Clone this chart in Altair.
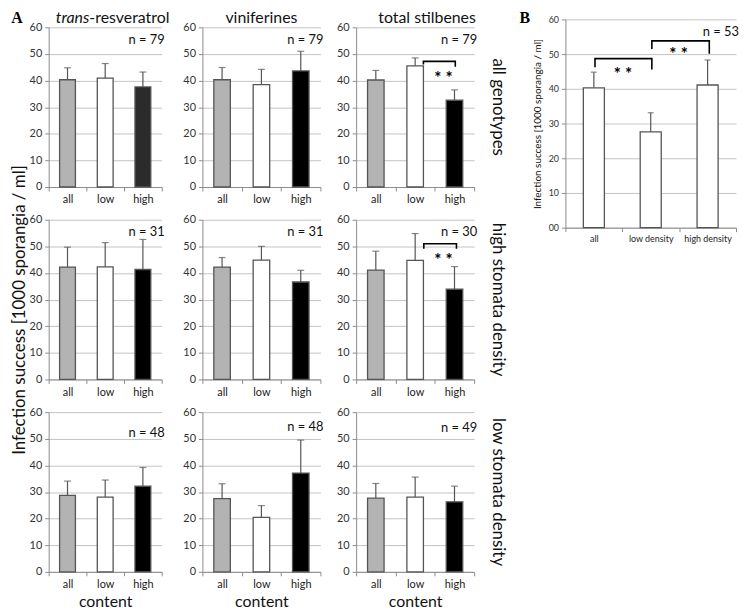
import altair as alt
import pandas as pd

FONT = "Lato"
SERIF = "Liberation Serif"
GRID = "#c3c3c3"
AXC = "#8c8c8c"
EDGE = "#555555"

groups = ["all", "low", "high"]
column_titles = ["trans-resveratrol", "viniferines", "total stilbenes"]
row_titles = ["all genotypes", "high stomata density", "low stomata density"]

# mean infection success per compound column (trans-resveratrol, viniferines, total stilbenes)
means_all_genotypes = [[40.3, 40.9, 37.6], [40.3, 38.5, 43.6], [40.2, 45.5, 32.6]]
errors_all_genotypes = [[4.5, 5.5, 5.6], [4.6, 5.7, 7.4], [3.6, 3.0, 3.9]]
means_high_density = [[42.2, 42.3, 41.3], [42.2, 44.8, 36.6], [41.1, 44.7, 33.9]]
errors_high_density = [[7.5, 9.1, 11.3], [3.6, 5.2, 4.4], [7.1, 10.1, 8.5]]
means_low_density = [[28.7, 28.1, 32.2], [27.5, 20.5, 37.1], [27.7, 28.1, 26.3]]
errors_low_density = [[5.4, 6.4, 7.0], [5.6, 4.4, 12.4], [5.5, 7.5, 5.9]]
n_values = [[79, 79, 79], [31, 31, 30], [48, 48, 49]]
n_label_y = [[55.3, 55.3, 55.3], [55.4, 55.4, 55.3], [52.0, 54.5, 54.0]]

b_groups = ["all", "low density", "high density"]
b_means = [40.3, 27.6, 41.1]
b_errors = [4.5, 5.5, 7.2]
b_n = 53

# significance brackets: x in category units (0..3), y in data units
sig_all_x = [1.71, 1.71, 2.52, 2.52]
sig_all_y = [46.0, 47.2, 47.2, 45.2]
sig_all_star = [2.22, 42.6]
sig_high_x = [1.72, 1.72, 2.55, 2.55]
sig_high_y = [49.1, 51.0, 51.0, 49.1]
sig_high_star = [2.22, 46.3]
sig_b1_x = [0.52, 0.52, 1.52, 1.52]
sig_b1_y = [46.2, 48.7, 48.7, 45.6]
sig_b1_star = [1.01, 45.4]
sig_b2_x = [1.52, 1.52, 2.53, 2.53]
sig_b2_y = [51.5, 53.8, 53.8, 50.1]
sig_b2_star = [1.99, 51.2]

fill_colors = ["#b3b3b3", "#ffffff", "#000000"]
fill_colors_first = ["#b3b3b3", "#ffffff", "#2b2b2b"]


def one(col, val):
    return alt.Chart(pd.DataFrame({col: [val]}))


def panel(cats, m, e, fills, n, n_y, w, h, label_size=11, bar_band=0.42, xtitle=None,
          ytitle=None, headers=(), rowlabel=None, brackets=(), letter=None,
          zero_label=None, cap=7, n_size=13, ytitle_size=16, y_range=None):
    df = pd.DataFrame({"g": cats, "m": m, "top": [a + b for a, b in zip(m, e)], "fill": fills})
    base = alt.Chart(df)
    xs = alt.Scale(type="band", paddingInner=0, paddingOuter=0)
    x_axis = alt.Axis(labelAngle=0, tickBand="extent", labelFontSize=label_size,
                      labelColor="#222222", titleFontSize=16, titlePadding=4, domainColor=AXC)
    y_kw = dict(values=list(range(0, 61, 10)), labelFontSize=label_size, grid=True,
                titleFontSize=ytitle_size, titlePadding=6, labelOverlap=False)
    if zero_label is not None:
        y_kw["labelExpr"] = "datum.value == 0 ? '" + zero_label + "' : datum.label"
    y_axis = alt.Axis(**y_kw)
    s_kw = dict(domain=[0, 60], nice=False, zero=True)
    if y_range is not None:
        s_kw["range"] = y_range
    ys = alt.Scale(**s_kw)

    def Y(field=None, datum=None):
        if datum is not None:
            return alt.Y(datum=datum, scale=ys, axis=y_axis, title=ytitle)
        return alt.Y(field, scale=ys, axis=y_axis, title=ytitle)

    def X():
        return alt.X("g:N", sort=cats, scale=xs, axis=x_axis, title=xtitle)

    layers = [
        base.mark_bar(width=alt.RelativeBandSize(bar_band), stroke=EDGE, strokeWidth=1.3).encode(
            x=X(), y=Y("m:Q"), fill=alt.Fill("fill:N", scale=None),
        ),
        base.mark_rule(color=EDGE, strokeWidth=1.2).encode(x=X(), y=Y("m:Q"), y2="top:Q"),
        base.mark_tick(color=EDGE, thickness=1.2, size=cap, orient="horizontal").encode(
            x=X(), y=Y("top:Q"),
        ),
        one("t", f"n = {n}").mark_text(align="right", baseline="middle", fontSize=n_size,
                                       font=FONT, color="#111111").encode(
            text="t:N", x=alt.value(w + 3), y=Y(datum=n_y)),
    ]
    for txt, hx, align, style in headers:
        layers.append(one("t", txt).mark_text(align=align, baseline="middle", fontSize=16,
                                              font=FONT, fontStyle=style, color="#111111").encode(
            text="t:N", x=alt.value(hx), y=alt.value(-9)))
    if rowlabel:
        layers.append(one("t", rowlabel).mark_text(align="center", baseline="middle", fontSize=17,
                                                   font=FONT, angle=90, color="#111111").encode(
            text="t:N", x=alt.value(w + 24), y=alt.value(h / 2)))
    if letter:
        layers.append(one("t", letter).mark_text(align="center", baseline="middle", fontSize=16,
                                                 font=SERIF, fontWeight="bold", color="#000000").encode(
            text="t:N", x=alt.value(-41), y=alt.value(-9)))
    chart = alt.layer(*layers)
    if brackets:
        extra = []
        bs = alt.Scale(domain=[0, 3], nice=False, zero=False)
        for bx, by, star in brackets:
            bdf = pd.DataFrame({"bx": bx, "by": by, "o": list(range(len(bx)))})
            extra.append(alt.Chart(bdf).mark_line(color="#000000", strokeWidth=1.6).encode(
                x=alt.X("bx:Q", scale=bs, axis=None),
                y=Y("by:Q"),
                order="o:Q"))
            extra.append(one("sx", star[0]).transform_calculate(sy=str(star[1])).mark_text(
                text="* *", fontSize=17, font=FONT, fontWeight="bold", baseline="middle", dy=5,
                color="#000000").encode(
                x=alt.X("sx:Q", scale=bs, axis=None),
                y=Y("sy:Q")))
        chart = alt.layer(chart, *extra).resolve_scale(x="independent")
    return chart.properties(width=w, height=h)


W = [114, 119, 119]
H = 161
all_means = [means_all_genotypes, means_high_density, means_low_density]
all_errors = [errors_all_genotypes, errors_high_density, errors_low_density]
header_specs = [
    [("trans", 41, "right", "italic"), ("-resveratrol", 41, "left", "normal")],
    [("viniferines", W[1] / 2, "center", "normal")],
    [("total stilbenes", W[2] / 2 + 12, "center", "normal")],
]
row_brackets = {
    (0, 2): [(sig_all_x, sig_all_y, sig_all_star)],
    (1, 2): [(sig_high_x, sig_high_y, sig_high_star)],
}

panels = []
for r in range(3):
    for c in range(3):
        fills = fill_colors_first if (r == 0 and c == 0) else fill_colors
        panels.append(panel(
            groups, all_means[r][c], all_errors[r][c], fills, n_values[r][c], n_label_y[r][c],
            W[c], H,
            xtitle="content" if r == 2 else None,
            headers=header_specs[c] if r == 0 else (),
            rowlabel=row_titles[r] if c == 2 else None,
            brackets=row_brackets.get((r, c), ()),
        ))

grid_a = alt.concat(*panels, columns=3, spacing={"row": 9, "column": 13}).properties(
    title=alt.TitleParams("Infection success [1000 sporangia / ml]", orient="left",
                          anchor="middle", fontSize=17, font=FONT, fontWeight="normal",
                          color="#111111", offset=0)
)

B_H = 202
panel_b = panel(
    b_groups, b_means, b_errors, ["#ffffff"] * 3, b_n, 56.3, 172, B_H,
    label_size=9, bar_band=0.37, ytitle="Infection success [1000 sporangia / ml]",
    brackets=[(sig_b1_x, sig_b1_y, sig_b1_star), (sig_b2_x, sig_b2_y, sig_b2_star)],
    letter="B", zero_label="00", cap=6, n_size=13, ytitle_size=10, y_range=[B_H, -8],
)

chart = alt.hconcat(grid_a, panel_b, spacing=12).properties(
    title=alt.TitleParams("A", anchor="start", font=SERIF, fontWeight="bold", fontSize=16,
                          color="#000000", offset=-16),
    padding={"left": 3, "top": 0, "right": 0, "bottom": 0},
).configure_view(stroke=None).configure_axis(
    labelFont=FONT, titleFont=FONT, labelColor="#333333", domainColor=AXC, tickColor=AXC,
    gridColor=GRID, tickSize=4, labelPadding=3, titleFontWeight="normal", titleColor="#111111",
).configure_axisX(grid=False)

chart.save("out.html", embed_options={"renderer": "svg", "actions": False})
